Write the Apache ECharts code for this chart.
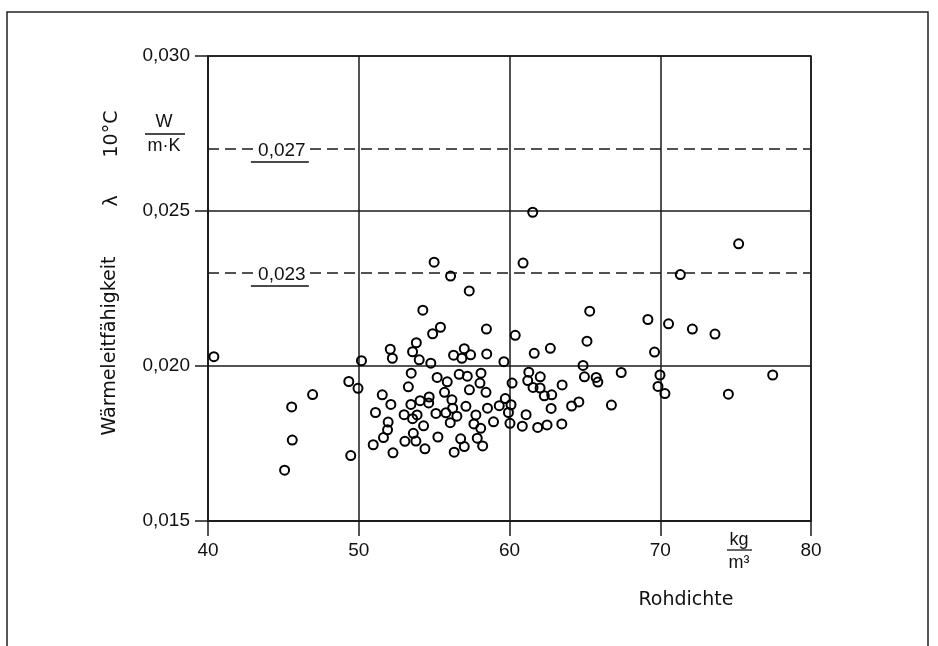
<!DOCTYPE html>
<html>
<head>
<meta charset="utf-8">
<script src="https://cdn.jsdelivr.net/npm/echarts@6/dist/echarts.min.js"></script>
<style>
html,body{margin:0;padding:0;background:#fff;}
#chart{width:938px;height:646px;}
</style>
</head>
<body>
<div id="chart"></div>
<script>
// Rohdichte (kg/m³)
const rho = [
  40.39, 50.18, 49.34, 49.95, 46.94, 45.55, 45.59, 45.08, 49.47, 52.09,
  52.23, 51.56, 52.13, 51.11, 51.95, 51.91, 51.64, 50.96, 52.27, 55.00,
  56.09, 57.33, 54.25, 55.42, 54.90, 58.47, 53.82, 53.57, 54.01, 54.78,
  56.29, 57.00, 56.84, 57.42, 58.49, 53.48, 55.20, 55.87, 56.66, 57.20,
  58.11, 58.04, 53.29, 55.69, 57.34, 58.44, 54.67, 54.07, 54.64, 53.46,
  56.18, 56.23, 57.11, 58.54, 53.01, 53.87, 53.57, 55.12, 55.78, 56.51,
  57.77, 56.07, 57.64, 54.30, 58.09, 53.62, 55.25, 56.76, 57.86, 53.06,
  53.79, 54.39, 57.00, 58.22, 56.33, 61.54, 60.90, 60.38, 61.64, 62.71,
  59.63, 64.88, 65.32, 65.14, 61.28, 62.04, 61.21, 60.17, 61.56, 62.03,
  62.31, 62.80, 63.49, 64.97, 65.75, 65.86, 59.72, 59.32, 60.10, 62.76,
  64.12, 64.60, 59.93, 61.10, 58.94, 60.03, 60.85, 61.87, 62.49, 63.47,
  75.20, 71.33, 69.18, 70.55, 72.13, 73.63, 69.62, 67.41, 69.98, 69.85,
  70.31, 74.52, 77.46, 66.76
];
// Wärmeleitfähigkeit λ10°C (W/(m·K))
const lambda = [
  0.02030, 0.02017, 0.01950, 0.01928, 0.01908, 0.01868, 0.01761, 0.01664, 0.01711, 0.02054,
  0.02025, 0.01907, 0.01876, 0.01850, 0.01819, 0.01794, 0.01769, 0.01746, 0.01720, 0.02335,
  0.02290, 0.02242, 0.02180, 0.02125, 0.02104, 0.02119, 0.02075, 0.02046, 0.02020, 0.02009,
  0.02035, 0.02056, 0.02025, 0.02036, 0.02039, 0.01977, 0.01963, 0.01949, 0.01973, 0.01967,
  0.01977, 0.01945, 0.01933, 0.01915, 0.01923, 0.01915, 0.01900, 0.01888, 0.01881, 0.01876,
  0.01891, 0.01864, 0.01870, 0.01864, 0.01843, 0.01842, 0.01830, 0.01847, 0.01849, 0.01838,
  0.01842, 0.01817, 0.01813, 0.01807, 0.01799, 0.01783, 0.01771, 0.01765, 0.01767, 0.01757,
  0.01758, 0.01733, 0.01740, 0.01742, 0.01722, 0.02496, 0.02332, 0.02099, 0.02041, 0.02057,
  0.02014, 0.02002, 0.02177, 0.02080, 0.01980, 0.01965, 0.01953, 0.01945, 0.01931, 0.01929,
  0.01904, 0.01907, 0.01939, 0.01965, 0.01963, 0.01948, 0.01895, 0.01872, 0.01875, 0.01863,
  0.01871, 0.01884, 0.01850, 0.01843, 0.01820, 0.01815, 0.01806, 0.01802, 0.01810, 0.01813,
  0.02394, 0.02295, 0.02150, 0.02136, 0.02119, 0.02103, 0.02045, 0.01979, 0.01971, 0.01934,
  0.01911, 0.01909, 0.01971, 0.01874
];
// reference (dashed) lines
const refValues = [0.027, 0.023];
const refLabels = ['0,027', '0,023'];
// tick labels
const xTickValues = [40, 50, 60, 70, 80];
const xTickLabels = ['40', '50', '60', '70', '80'];
const yTickValues = [0.015, 0.020, 0.025, 0.030];
const yTickLabels = ['0,015', '0,020', '0,025', '0,030'];

const INK = '#1a1a1a';
const TICKFONT = '"Liberation Sans", Arial, sans-serif';
const TITLEFONT = '"DejaVu Sans", sans-serif';

function lookup(vals, labels, v) {
  for (let i = 0; i < vals.length; i++) if (Math.abs(vals[i] - v) < 1e-9) return labels[i];
  return '';
}

const chart = echarts.init(document.getElementById('chart'), null, {renderer: 'canvas'});
const points = rho.map((x, i) => [x, lambda[i]]);

chart.setOption({
  animation: false,
  backgroundColor: '#fff',
  grid: {left: 208, top: 56, width: 603, height: 465, show: true, borderColor: INK, borderWidth: 1.5, backgroundColor: 'transparent'},
  xAxis: {
    type: 'value', min: 40, max: 80, interval: 10,
    axisLine: {show: true, lineStyle: {color: INK, width: 1.5}},
    axisTick: {show: true, length: 15, lineStyle: {color: INK, width: 1.5}},
    axisLabel: {margin: 20, color: '#111', fontSize: 19, fontFamily: TICKFONT,
      formatter: v => lookup(xTickValues, xTickLabels, v)},
    splitLine: {show: true, lineStyle: {color: INK, width: 1.5}}
  },
  yAxis: {
    type: 'value', min: 0.015, max: 0.030, interval: 0.005,
    axisLine: {show: true, lineStyle: {color: INK, width: 1.5}},
    axisTick: {show: true, length: 13, lineStyle: {color: INK, width: 1.5}},
    axisLabel: {margin: 18, color: '#111', fontSize: 19, fontFamily: TICKFONT,
      formatter: v => lookup(yTickValues, yTickLabels, v)},
    splitLine: {show: true, lineStyle: {color: INK, width: 1.5}}
  },
  series: [{
    type: 'scatter',
    data: points,
    symbol: 'circle',
    symbolSize: 9,
    itemStyle: {color: 'rgba(0,0,0,0)', borderColor: '#000', borderWidth: 2, opacity: 1},
    emphasis: {disabled: true},
    markLine: {
      silent: true,
      precision: 5,
      symbol: ['none', 'none'],
      label: {show: false},
      lineStyle: {color: INK, width: 1.6, type: [11, 6]},
      data: refValues.map(v => ({yAxis: v}))
    },
    z: 5
  }]
});

// annotations positioned through the chart's own coordinate system
const labelRho = 44.9;
const g = [];
refValues.forEach((v, i) => {
  const p = chart.convertToPixel({gridIndex: 0}, [labelRho, v]);
  g.push({
    type: 'text', x: p[0], y: p[1] + 2, z: 20,
    style: {text: refLabels[i], font: '19px ' + TICKFONT, fill: '#111',
      textAlign: 'center', textVerticalAlign: 'middle',
      backgroundColor: '#fff', padding: [0, 4]}
  });
  g.push({
    type: 'line', z: 20,
    shape: {x1: p[0] - 31, y1: p[1] + 13, x2: p[0] + 27, y2: p[1] + 13},
    style: {stroke: '#111', lineWidth: 1.3}
  });
});
// y-axis title (rotated)
g.push({type: 'text', x: 110, y: 346, rotation: Math.PI / 2, z: 20,
  style: {text: 'Wärmeleitfähigkeit', font: '19px ' + TITLEFONT, fill: '#111', textAlign: 'center', textVerticalAlign: 'middle'}});
g.push({type: 'text', x: 112, y: 201, rotation: Math.PI / 2, z: 20,
  style: {text: 'λ', font: '19px ' + TITLEFONT, fill: '#111', textAlign: 'center', textVerticalAlign: 'middle'}});
g.push({type: 'text', x: 112, y: 134, rotation: Math.PI / 2, z: 20,
  style: {text: '10°C', font: '19px ' + TITLEFONT, fill: '#111', textAlign: 'center', textVerticalAlign: 'middle'}});
// y unit W/(m·K)
g.push({type: 'text', x: 164, y: 122, z: 20,
  style: {text: 'W', font: '18px ' + TICKFONT, fill: '#111', textAlign: 'center', textVerticalAlign: 'middle'}});
g.push({type: 'line', z: 20, shape: {x1: 145, y1: 134, x2: 185, y2: 134}, style: {stroke: '#111', lineWidth: 1.3}});
g.push({type: 'text', x: 164, y: 146, z: 20,
  style: {text: 'm·K', font: '18px ' + TICKFONT, fill: '#111', textAlign: 'center', textVerticalAlign: 'middle'}});
// x unit kg/m³
g.push({type: 'text', x: 739, y: 540, z: 20,
  style: {text: 'kg', font: '18px ' + TICKFONT, fill: '#111', textAlign: 'center', textVerticalAlign: 'middle'}});
g.push({type: 'line', z: 20, shape: {x1: 727, y1: 550, x2: 752, y2: 550}, style: {stroke: '#111', lineWidth: 1.3}});
g.push({type: 'text', x: 739, y: 563, z: 20,
  style: {text: 'm³', font: '18px ' + TICKFONT, fill: '#111', textAlign: 'center', textVerticalAlign: 'middle'}});
// x-axis title
g.push({type: 'text', x: 686, y: 600, z: 20,
  style: {text: 'Rohdichte', font: '19px ' + TITLEFONT, fill: '#111', textAlign: 'center', textVerticalAlign: 'middle'}});
// outer frame
g.push({type: 'rect', z: 1, shape: {x: 7, y: 12, width: 921, height: 700},
  style: {fill: 'none', stroke: '#222', lineWidth: 1.5}});

chart.setOption({graphic: g});
</script>
</body>
</html>
